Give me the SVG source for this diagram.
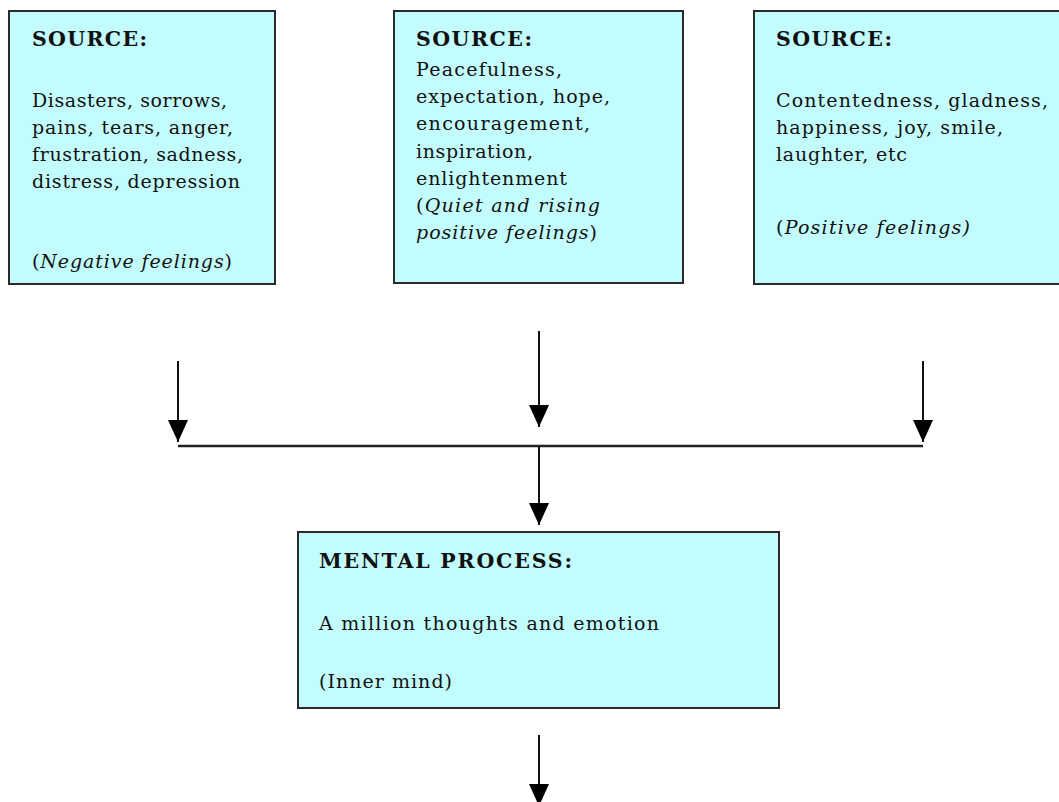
<svg xmlns="http://www.w3.org/2000/svg" width="1059" height="802" viewBox="0 0 1059 802">
<style>
.box{fill:#C3FCFD;stroke:#2b2b2b;stroke-width:2}
.t{font-family:"DejaVu Serif","Liberation Serif",serif;font-size:19px;fill:#111}
.b{font-weight:bold;font-size:20.5px}
.i{font-style:italic}
.c{stroke:#111;stroke-width:2;fill:none}
</style>
<defs>
<marker id="ah" viewBox="0 -10 22 20" refX="22" refY="0" markerWidth="22" markerHeight="20" markerUnits="userSpaceOnUse" orient="auto">
<path d="M0,-10 L22,0 L0,10 z" fill="#000"/>
</marker>
</defs>
<rect width="1059" height="802" fill="#fff"/>
<g id="source-negative">
<rect class="box" x="9" y="11" width="266" height="273"/>
<text class="t b" x="32" y="46" textLength="115" lengthAdjust="spacing">SOURCE:</text>
<text class="t" x="32" y="107" textLength="195" lengthAdjust="spacing">Disasters, sorrows,</text>
<text class="t" x="32" y="134" textLength="201" lengthAdjust="spacing">pains, tears, anger,</text>
<text class="t" x="32" y="161" textLength="211" lengthAdjust="spacing">frustration, sadness,</text>
<text class="t" x="32" y="188" textLength="208" lengthAdjust="spacing">distress, depression</text>
<text class="t" x="32" y="268" textLength="200" lengthAdjust="spacing">(<tspan class="i">Negative feelings</tspan>)</text>
</g>
<g id="source-rising">
<rect class="box" x="394" y="11" width="289" height="272"/>
<text class="t b" x="416" y="46" textLength="116" lengthAdjust="spacing">SOURCE:</text>
<text class="t" x="416" y="76" textLength="146" lengthAdjust="spacing">Peacefulness,</text>
<text class="t" x="416" y="103" textLength="194" lengthAdjust="spacing">expectation, hope,</text>
<text class="t" x="416" y="130" textLength="174" lengthAdjust="spacing">encouragement,</text>
<text class="t" x="416" y="158" textLength="117" lengthAdjust="spacing">inspiration,</text>
<text class="t" x="416" y="185" textLength="151" lengthAdjust="spacing">enlightenment</text>
<text class="t" x="416" y="212" textLength="184" lengthAdjust="spacing">(<tspan class="i">Quiet and rising</tspan></text>
<text class="t" x="416" y="239" textLength="181" lengthAdjust="spacing"><tspan class="i">positive feelings</tspan>)</text>
</g>
<g id="source-positive">
<rect class="box" x="754" y="11" width="310" height="273"/>
<text class="t b" x="776" y="46" textLength="116" lengthAdjust="spacing">SOURCE:</text>
<text class="t" x="776" y="107" textLength="272" lengthAdjust="spacing">Contentedness, gladness,</text>
<text class="t" x="776" y="134" textLength="227" lengthAdjust="spacing">happiness, joy, smile,</text>
<text class="t" x="776" y="161" textLength="131" lengthAdjust="spacing">laughter, etc</text>
<text class="t" x="776" y="234" textLength="194" lengthAdjust="spacing">(<tspan class="i">Positive feelings)</tspan></text>
</g>
<g id="mental-process">
<rect class="box" x="298" y="532" width="481" height="176"/>
<text class="t b" x="319" y="568" textLength="253" lengthAdjust="spacing">MENTAL PROCESS:</text>
<text class="t" x="319" y="630" textLength="340" lengthAdjust="spacing">A million thoughts and emotion</text>
<text class="t" x="319" y="688" textLength="133" lengthAdjust="spacing">(Inner mind)</text>
</g>
<g id="connectors">
<line class="c" x1="178" y1="361" x2="178" y2="442" marker-end="url(#ah)"/>
<line class="c" x1="539" y1="331" x2="539" y2="427" marker-end="url(#ah)"/>
<line class="c" x1="923" y1="361" x2="923" y2="442" marker-end="url(#ah)"/>
<line x1="178" y1="446" x2="923" y2="446" stroke="#222" stroke-width="2.5"/>
<line class="c" x1="539" y1="446" x2="539" y2="525" marker-end="url(#ah)"/>
<line class="c" x1="539" y1="735" x2="539" y2="806" marker-end="url(#ah)"/>
</g>
</svg>
